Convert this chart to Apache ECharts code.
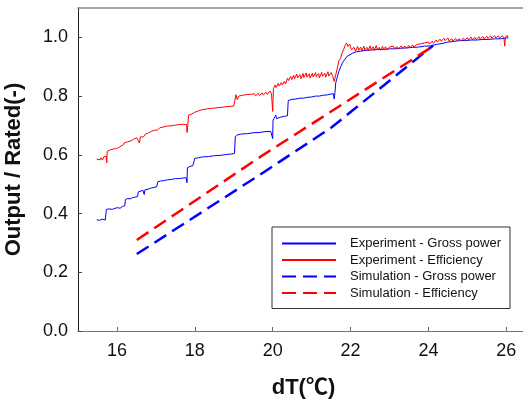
<!DOCTYPE html>
<html>
<head>
<meta charset="utf-8">
<script src="https://cdn.jsdelivr.net/npm/echarts@6/dist/echarts.min.js"></script>
<style>
  html, body { margin: 0; padding: 0; background: #fff; }
  #chart { width: 523px; height: 402px; }
</style>
</head>
<body>
<div id="chart"></div>
<script>
// 图例名称
const seriesNames = ['Experiment - Gross power', 'Experiment - Efficiency', 'Simulation - Gross power', 'Simulation - Efficiency']

// 实验 - 总功率 [dT, 输出/额定]
const expGross = [
  [15.48,0.379],[15.55,0.377],[15.62,0.381],[15.70,0.378],[15.72,0.376],[15.73,0.414],[15.80,0.416],[15.88,0.414],
  [15.95,0.418],[16.02,0.420],[16.08,0.418],[16.14,0.424],[16.20,0.426],[16.22,0.448],[16.28,0.451],[16.34,0.450],
  [16.40,0.454],[16.47,0.456],[16.53,0.458],[16.55,0.474],[16.60,0.477],[16.67,0.479],[16.70,0.465],[16.72,0.481],
  [16.80,0.483],[16.88,0.487],[16.95,0.489],[17.02,0.491],[17.05,0.508],[17.12,0.511],[17.20,0.512],[17.30,0.515],
  [17.40,0.516],[17.50,0.519],[17.60,0.519],[17.70,0.521],[17.78,0.522],[17.80,0.505],[17.81,0.556],[17.88,0.561],
  [17.95,0.563],[18.00,0.588],[18.10,0.590],[18.20,0.593],[18.35,0.594],[18.50,0.597],[18.65,0.598],[18.80,0.601],
  [18.95,0.603],[19.02,0.605],[19.04,0.662],[19.10,0.668],[19.20,0.671],[19.35,0.672],[19.50,0.675],[19.65,0.676],
  [19.80,0.679],[19.95,0.680],[19.99,0.677],[20.00,0.655],[20.01,0.718],[20.05,0.722],[20.08,0.735],[20.10,0.723],
  [20.20,0.728],[20.30,0.731],[20.38,0.733],[20.40,0.785],[20.50,0.789],[20.60,0.790],[20.70,0.793],[20.80,0.793],
  [20.90,0.796],[21.00,0.797],[21.10,0.800],[21.20,0.800],[21.30,0.803],[21.40,0.804],[21.50,0.807],[21.56,0.808],
  [21.58,0.790],[21.60,0.812],[21.62,0.845],[21.65,0.860],[21.70,0.884],[21.75,0.900],[21.80,0.915],[21.85,0.924],
  [21.90,0.934],[21.95,0.940],[22.05,0.946],[22.15,0.951],[22.25,0.953],[22.40,0.956],[22.55,0.957],[22.70,0.959],
  [22.85,0.959],[23.00,0.961],[23.15,0.961],[23.30,0.963],[23.45,0.964],[23.60,0.966],[23.75,0.967],[23.90,0.970],
  [24.05,0.971],[24.20,0.976],[24.35,0.979],[24.50,0.984],[24.65,0.986],[24.80,0.989],[24.95,0.989],[25.10,0.991],
  [25.25,0.991],[25.40,0.993],[25.55,0.993],[25.70,0.995],[25.85,0.995],[26.00,0.998],[26.05,0.998]
]

// 实验 - 效率
const expEff = [
  [15.48,0.585],[15.51,0.580],[15.53,0.588],[15.57,0.583],[15.59,0.590],[15.63,0.582],[15.66,0.593],[15.68,0.589],
  [15.72,0.596],[15.74,0.573],[15.75,0.612],[15.78,0.609],[15.83,0.617],[15.85,0.611],[15.91,0.620],[15.94,0.614],
  [15.99,0.621],[16.01,0.617],[16.07,0.627],[16.10,0.622],[16.16,0.634],[16.19,0.641],[16.22,0.635],[16.27,0.644],
  [16.30,0.639],[16.35,0.647],[16.37,0.643],[16.43,0.653],[16.46,0.648],[16.51,0.658],[16.55,0.664],[16.58,0.640],
  [16.60,0.661],[16.65,0.667],[16.68,0.661],[16.73,0.670],[16.76,0.666],[16.81,0.675],[16.83,0.670],[16.89,0.680],
  [16.92,0.675],[16.97,0.684],[17.01,0.690],[17.04,0.684],[17.10,0.692],[17.13,0.688],[17.20,0.695],[17.23,0.691],
  [17.30,0.698],[17.33,0.693],[17.40,0.699],[17.44,0.694],[17.50,0.701],[17.52,0.696],[17.60,0.703],[17.63,0.697],
  [17.70,0.704],[17.74,0.699],[17.79,0.703],[17.80,0.676],[17.82,0.700],[17.84,0.735],[17.87,0.730],[17.92,0.739],
  [17.95,0.734],[18.00,0.745],[18.04,0.741],[18.10,0.750],[18.13,0.745],[18.20,0.754],[18.23,0.749],[18.30,0.756],
  [18.33,0.751],[18.40,0.758],[18.43,0.753],[18.50,0.759],[18.53,0.754],[18.60,0.761],[18.63,0.756],[18.70,0.762],
  [18.73,0.757],[18.80,0.764],[18.83,0.759],[18.90,0.765],[18.93,0.760],[19.00,0.766],[19.04,0.761],[19.06,0.805],
  [19.09,0.788],[19.13,0.800],[19.16,0.794],[19.23,0.803],[19.26,0.797],[19.33,0.805],[19.36,0.799],[19.43,0.806],
  [19.46,0.800],[19.53,0.808],[19.56,0.801],[19.63,0.809],[19.66,0.802],[19.73,0.811],[19.76,0.804],[19.83,0.813],
  [19.86,0.806],[19.93,0.817],[19.97,0.808],[20.00,0.748],[20.02,0.825],[20.06,0.838],[20.09,0.829],[20.14,0.843],
  [20.17,0.834],[20.22,0.846],[20.25,0.838],[20.30,0.850],[20.33,0.841],[20.38,0.861],[20.41,0.853],[20.46,0.867],
  [20.49,0.856],[20.54,0.871],[20.56,0.859],[20.62,0.875],[20.64,0.862],[20.70,0.873],[20.73,0.859],[20.78,0.877],
  [20.80,0.863],[20.86,0.879],[20.88,0.864],[20.94,0.876],[20.96,0.861],[21.02,0.878],[21.04,0.865],[21.10,0.880],
  [21.12,0.866],[21.18,0.877],[21.20,0.862],[21.26,0.881],[21.28,0.867],[21.34,0.878],[21.36,0.864],[21.42,0.883],
  [21.44,0.868],[21.50,0.880],[21.54,0.869],[21.58,0.850],[21.62,0.872],[21.66,0.895],[21.70,0.920],[21.74,0.928],
  [21.78,0.945],[21.82,0.958],[21.86,0.972],[21.90,0.981],[21.93,0.969],[21.98,0.977],[22.02,0.958],[22.06,0.954],
  [22.09,0.966],[22.13,0.953],[22.18,0.969],[22.21,0.956],[22.26,0.967],[22.29,0.953],[22.34,0.970],[22.37,0.957],
  [22.42,0.966],[22.45,0.954],[22.50,0.971],[22.53,0.958],[22.58,0.968],[22.61,0.955],[22.66,0.972],[22.69,0.959],
  [22.74,0.966],[22.77,0.956],[22.82,0.969],[22.85,0.960],[22.90,0.968],[22.94,0.958],[23.00,0.967],[23.03,0.961],
  [23.10,0.970],[23.13,0.962],[23.20,0.968],[23.23,0.961],[23.30,0.971],[23.33,0.964],[23.40,0.970],[23.43,0.963],
  [23.50,0.972],[23.53,0.965],[23.60,0.974],[23.63,0.967],[23.70,0.976],[23.73,0.970],[23.80,0.978],[23.83,0.972],
  [23.90,0.981],[23.93,0.975],[24.00,0.984],[24.03,0.977],[24.10,0.987],[24.13,0.980],[24.20,0.991],[24.23,0.984],
  [24.30,0.994],[24.33,0.987],[24.40,0.997],[24.43,0.989],[24.50,0.998],[24.53,0.988],[24.60,0.995],[24.63,0.987],
  [24.70,0.996],[24.73,0.989],[24.80,0.995],[24.83,0.988],[24.90,0.997],[24.93,0.990],[25.00,0.999],[25.03,0.991],
  [25.10,1.001],[25.13,0.992],[25.20,1.000],[25.23,0.993],[25.30,1.002],[25.33,0.994],[25.40,1.003],[25.43,0.995],
  [25.50,1.004],[25.53,0.996],[25.60,1.005],[25.63,0.997],[25.70,1.006],[25.73,0.998],[25.80,1.005],[25.83,0.997],
  [25.90,1.006],[25.94,0.998],[25.96,0.970],[25.98,1.000],[26.02,1.007],[26.05,0.999]
]

// 模拟结果
const simGross = [[16.51,0.262],[19.67,0.532],[21.50,0.692],[24.12,0.972]]
const simEff = [[16.51,0.310],[19.67,0.592],[24.12,0.970]]

// 坐标轴范围
const xRange = [15, 26.43]
const yRange = [0, 1.1]

const font = "'Liberation Sans', Arial, 'Noto Sans CJK SC', sans-serif"

let myChart = echarts.init(document.getElementById('chart'))
let option = {
  animation: false,
  backgroundColor: '#fff',
  grid: { left: 78, right: 0, top: 8, bottom: 71, outerBoundsMode: 'none', containLabel: false },
  legend: {
    orient: 'vertical',
    left: 272,
    top: 227,
    padding: [10, 9, 9, 9],
    itemWidth: 54,
    itemHeight: 14,
    itemGap: 3.5,
    borderColor: '#333',
    borderWidth: 1,
    borderRadius: 0,
    backgroundColor: '#fff',
    itemStyle: { opacity: 0 },
    textStyle: { fontFamily: font, fontSize: 13, color: '#111', padding: [0, 0, 0, 9] },
    data: seriesNames
  },
  xAxis: [{
    type: 'value',
    min: xRange[0],
    max: xRange[1],
    name: 'dT(℃)',
    nameLocation: 'middle',
    nameGap: 46,
    nameTextStyle: { fontFamily: font, fontSize: 22, fontWeight: 'bold', color: '#111', padding: [0, 0, 0, 6] },
    splitLine: { show: false },
    axisLine: { lineStyle: { color: '#777', width: 1 } },
    axisTick: { inside: true, length: 4, lineStyle: { color: '#666' } },
    axisLabel: { showMinLabel: false, showMaxLabel: false, margin: 11, fontFamily: font, fontSize: 18, color: '#111' }
  }, {
    type: 'value',
    position: 'top',
    min: xRange[0],
    max: xRange[1],
    splitLine: { show: false },
    axisLine: { show: true, lineStyle: { color: '#888', width: 1.5 } },
    axisTick: { show: false },
    axisLabel: { show: false }
  }],
  yAxis: {
    type: 'value',
    min: yRange[0],
    max: yRange[1],
    interval: 0.2,
    name: 'Output / Rated(-)',
    nameLocation: 'middle',
    nameGap: 47,
    nameTextStyle: { fontFamily: font, fontSize: 22, fontWeight: 'bold', color: '#111', padding: [0, 0, 6, 0] },
    splitLine: { show: false },
    axisLine: { show: true, lineStyle: { color: '#222', width: 1 } },
    axisTick: { inside: true, length: 4, lineStyle: { color: '#444' } },
    axisLabel: {
      showMaxLabel: false, margin: 10, fontFamily: font, fontSize: 18, color: '#111',
      formatter: v => v.toFixed(1)
    }
  },
  series: [
    { name: seriesNames[0], type: 'line', data: expGross, symbol: 'none', lineStyle: { color: '#0000ff', width: 1 }, itemStyle: { color: '#0000ff' } },
    { name: seriesNames[1], type: 'line', data: expEff, symbol: 'none', lineStyle: { color: '#ff0000', width: 1 }, itemStyle: { color: '#ff0000' } },
    { name: seriesNames[2], type: 'line', data: simGross, symbol: 'none', lineStyle: { color: '#0000ff', width: 2.5, type: [14, 7] }, itemStyle: { color: '#0000ff' } },
    { name: seriesNames[3], type: 'line', data: simEff, symbol: 'none', lineStyle: { color: '#ff0000', width: 2.5, type: [14, 7] }, itemStyle: { color: '#ff0000' } }
  ]
}
myChart.setOption(option)
window.addEventListener('resize', function () {
  myChart.resize()
})
</script>
</body>
</html>
